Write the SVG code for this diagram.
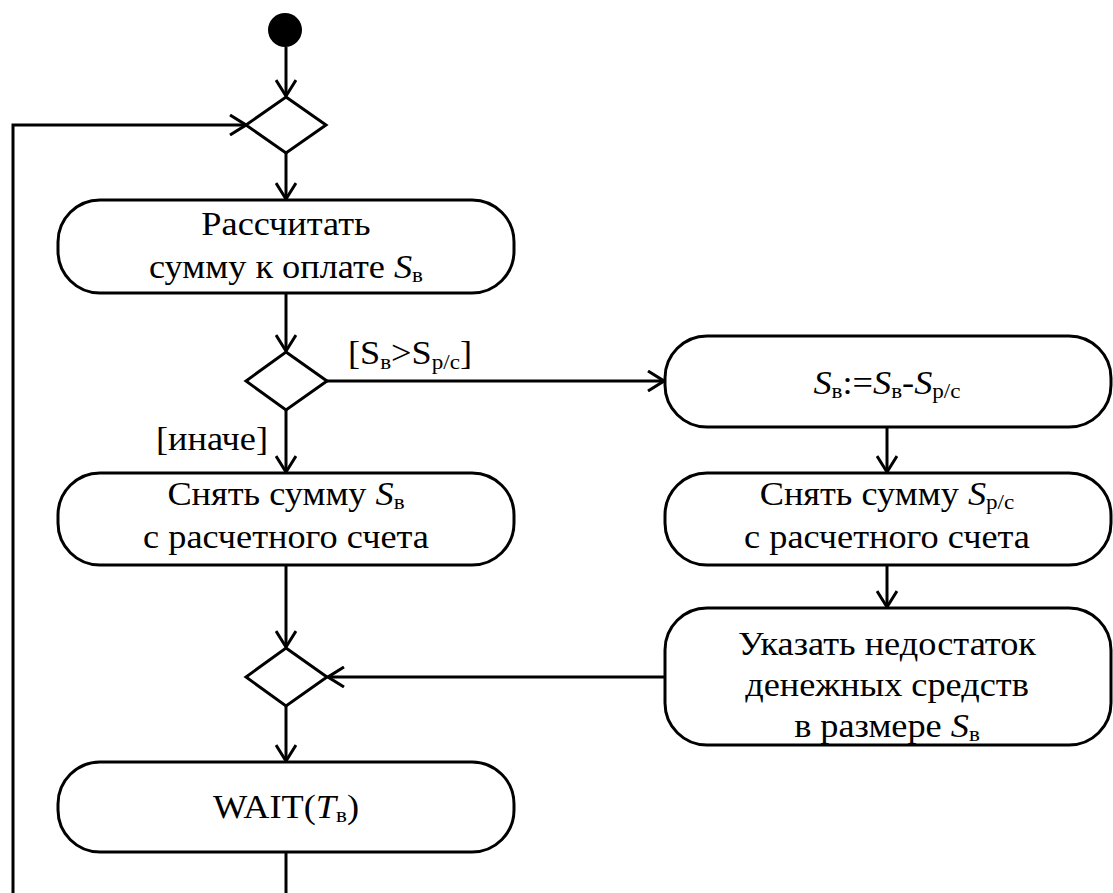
<svg xmlns="http://www.w3.org/2000/svg" width="1113" height="893" viewBox="0 0 1113 893">
<defs>
<marker id="arr" viewBox="0 0 18 22" markerWidth="18" markerHeight="22" refX="17" refY="11" orient="auto" markerUnits="userSpaceOnUse">
<path d="M1,1 L17,11 L1,21" fill="none" stroke="#000" stroke-width="3"/>
</marker>
<style>
.box{fill:#fff;stroke:#000;stroke-width:3}
.dia{fill:#fff;stroke:#000;stroke-width:3}
.ln{fill:none;stroke:#000;stroke-width:3}
.t{font-family:"Liberation Serif","DejaVu Serif",serif;font-size:33px;fill:#000;text-anchor:middle}
.i{font-style:italic}
.s{font-size:21px}
</style>
</defs>
<rect width="1113" height="893" fill="#fff"/>
<g id="connectors">
<line class="ln" x1="286" y1="47" x2="286" y2="96" marker-end="url(#arr)"/>
<polyline class="ln" points="13,893 13,125 246,125" marker-end="url(#arr)"/>
<line class="ln" x1="286" y1="153" x2="286" y2="199" marker-end="url(#arr)"/>
<line class="ln" x1="286" y1="293" x2="286" y2="351" marker-end="url(#arr)"/>
<line class="ln" x1="327" y1="381" x2="664" y2="381" marker-end="url(#arr)"/>
<line class="ln" x1="286" y1="410" x2="286" y2="472" marker-end="url(#arr)"/>
<line class="ln" x1="887" y1="427" x2="887" y2="472" marker-end="url(#arr)"/>
<line class="ln" x1="887" y1="565" x2="887" y2="607" marker-end="url(#arr)"/>
<line class="ln" x1="286" y1="565" x2="286" y2="647" marker-end="url(#arr)"/>
<line class="ln" x1="664" y1="677" x2="328" y2="677" marker-end="url(#arr)"/>
<line class="ln" x1="286" y1="706" x2="286" y2="761" marker-end="url(#arr)"/>
<line class="ln" x1="286" y1="852" x2="286" y2="893"/>
<text class="t" transform="matrix(1.1,0,0,1,410,0)" x="0" y="364">[S<tspan class="s" dy="5">в</tspan><tspan dy="-5">&gt;S</tspan><tspan class="s" dy="5">р/с</tspan><tspan dy="-5">]</tspan></text>
<text class="t" transform="matrix(1.1,0,0,1,212,0)" x="0" y="450">[иначе]</text>
</g>
<g id="start"><circle cx="285" cy="30" r="17" fill="#000"/></g>
<g id="merge1"><polygon class="dia" points="286,97 326,125 286,153 246,125"/></g>
<g id="calc">
<rect class="box" x="58" y="200" width="456" height="93" rx="42"/>
<text class="t" transform="matrix(1.1,0,0,1,286,0)" x="0" y="235">Рассчитать</text>
<text class="t" transform="matrix(1.1,0,0,1,286,0)" x="0" y="278">сумму к оплате <tspan class="i">S</tspan><tspan class="s" dy="4">в</tspan></text>
</g>
<g id="decision"><polygon class="dia" points="286,352 327,381 286,410 246,381"/></g>
<g id="subtract">
<rect class="box" x="665" y="336" width="446" height="91" rx="42"/>
<text class="t" transform="matrix(1.1,0,0,1,887,0)" x="0" y="394"><tspan class="i">S</tspan><tspan class="s" dy="4">в</tspan><tspan dy="-4">:=</tspan><tspan class="i">S</tspan><tspan class="s" dy="4">в</tspan><tspan dy="-4">-</tspan><tspan class="i">S</tspan><tspan class="s" dy="4">р/с</tspan></text>
</g>
<g id="withdraw1">
<rect class="box" x="58" y="473" width="456" height="92" rx="42"/>
<text class="t" transform="matrix(1.1,0,0,1,286,0)" x="0" y="505">Снять сумму <tspan class="i">S</tspan><tspan class="s" dy="4">в</tspan></text>
<text class="t" transform="matrix(1.1,0,0,1,286,0)" x="0" y="548">с расчетного счета</text>
</g>
<g id="withdraw2">
<rect class="box" x="665" y="473" width="446" height="92" rx="42"/>
<text class="t" transform="matrix(1.1,0,0,1,887,0)" x="0" y="505">Снять сумму <tspan class="i">S</tspan><tspan class="s" dy="4">р/с</tspan></text>
<text class="t" transform="matrix(1.1,0,0,1,887,0)" x="0" y="548">с расчетного счета</text>
</g>
<g id="shortage">
<rect class="box" x="665" y="608" width="446" height="137" rx="42"/>
<text class="t" transform="matrix(1.1,0,0,1,887,0)" x="0" y="655">Указать недостаток</text>
<text class="t" transform="matrix(1.1,0,0,1,887,0)" x="0" y="696">денежных средств</text>
<text class="t" transform="matrix(1.1,0,0,1,887,0)" x="0" y="737">в размере <tspan class="i">S</tspan><tspan class="s" dy="4">в</tspan></text>
</g>
<g id="merge2"><polygon class="dia" points="286,648 327,677 286,706 246,677"/></g>
<g id="wait">
<rect class="box" x="58" y="762" width="456" height="90" rx="42"/>
<text class="t" transform="matrix(1.1,0,0,1,286,0)" x="0" y="818">WAIT(<tspan class="i">T</tspan><tspan class="s" dy="4">в</tspan><tspan dy="-4">)</tspan></text>
</g>
</svg>
